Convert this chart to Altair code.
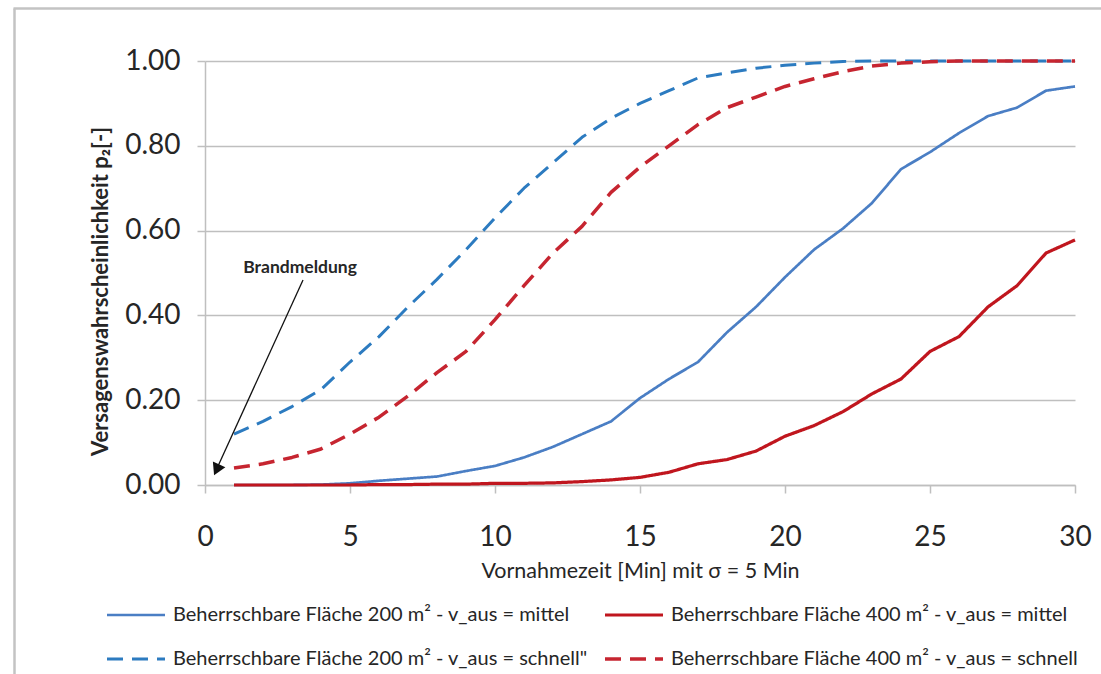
import altair as alt
import pandas as pd

# ---- data ----
minutes = list(range(1, 31))

series_names = [
    "Beherrschbare Fläche 200 m² - v_aus = mittel",
    "Beherrschbare Fläche 200 m² - v_aus = schnell\"",
    "Beherrschbare Fläche 400 m² - v_aus = mittel",
    "Beherrschbare Fläche 400 m² - v_aus = schnell",
]

flaeche_200_mittel = [0.000, 0.000, 0.000, 0.001, 0.004, 0.010, 0.015, 0.020, 0.033, 0.045,
                      0.065, 0.090, 0.120, 0.150, 0.205, 0.250, 0.290, 0.360, 0.420, 0.490,
                      0.555, 0.605, 0.665, 0.745, 0.785, 0.830, 0.870, 0.890, 0.930, 0.940]
flaeche_200_schnell = [0.120, 0.150, 0.185, 0.225, 0.290, 0.350, 0.420, 0.485, 0.555, 0.630,
                       0.700, 0.760, 0.820, 0.865, 0.900, 0.930, 0.960, 0.972, 0.983, 0.990,
                       0.995, 0.999, 1.000, 1.000, 1.000, 1.000, 1.000, 1.000, 1.000, 1.000]
flaeche_400_mittel = [0.000, 0.000, 0.000, 0.000, 0.000, 0.001, 0.001, 0.002, 0.002, 0.004,
                      0.004, 0.005, 0.008, 0.012, 0.018, 0.030, 0.050, 0.060, 0.080, 0.115,
                      0.140, 0.173, 0.215, 0.250, 0.315, 0.350, 0.420, 0.470, 0.547, 0.578]
flaeche_400_schnell = [0.040, 0.050, 0.065, 0.085, 0.120, 0.160, 0.210, 0.265, 0.315, 0.390,
                       0.470, 0.547, 0.610, 0.690, 0.750, 0.800, 0.850, 0.890, 0.915, 0.940,
                       0.958, 0.975, 0.988, 0.995, 0.998, 1.000, 1.000, 1.000, 1.000, 1.000]

x_ticks = [0, 5, 10, 15, 20, 25, 30]
y_ticks = [0.0, 0.2, 0.4, 0.6, 0.8, 1.0]

colors = ["#4A7EC4", "#2C7BC0", "#C0161E", "#C62530"]
dashes = [[1, 0], [16, 9], [1, 0], [16, 9]]
widths = [2.7, 3.5, 3.2, 3.5]

note_text = ["Brandmeldung"]
note_x = [3.28]
note_y = [0.512]
arrow_x = [3.38, 0.45]
arrow_y = [0.4835, 0.045]
arrow_tip_x = [0.40]
arrow_tip_y = [0.036]

# ---- table ----
rows = []
for name, vals in zip(series_names, [flaeche_200_mittel, flaeche_200_schnell,
                                     flaeche_400_mittel, flaeche_400_schnell]):
    for m, v in zip(minutes, vals):
        rows.append({"x": m, "p": v, "series": name})
df = pd.DataFrame(rows)

FONT = "Lato"
GRAY = "#BFBFBF"
TXT = "#262626"

x_enc = alt.X("x:Q", scale=alt.Scale(domain=[0, 30], nice=False),
              axis=alt.Axis(values=x_ticks, title="Vornahmezeit [Min] mit σ = 5 Min",
                            grid=False, domainColor=GRAY, domainWidth=1.5,
                            tickColor=GRAY, tickWidth=1.5, tickSize=8,
                            labelFont=FONT, labelFontSize=28, labelColor=TXT,
                            labelPadding=30, labelFlush=False,
                            titleFont=FONT, titleFontSize=21.5, titleFontWeight="normal",
                            titleColor=TXT, titlePadding=9))
y_enc = alt.Y("p:Q", scale=alt.Scale(domain=[0, 1], nice=False),
              axis=alt.Axis(values=y_ticks, format=".2f",
                            title="Versagenswahrscheinlichkeit p₂[-]",
                            grid=True, gridColor=GRAY, gridWidth=1.5,
                            domainColor=GRAY, domainWidth=1.5,
                            tickColor=GRAY, tickWidth=1.5, tickSize=8,
                            labelFont=FONT, labelFontSize=28, labelColor=TXT,
                            labelPadding=17,
                            titleFont=FONT, titleFontSize=22, titleFontWeight="bold",
                            titleColor=TXT, titleX=-105, titleY=230,
                            titleBaseline="middle", titleAlign="center"))

lines = alt.Chart(df).mark_line(strokeCap="butt", strokeJoin="round").encode(
    x=x_enc,
    y=y_enc,
    color=alt.Color("series:N", scale=alt.Scale(domain=series_names, range=colors),
                    legend=alt.Legend(orient="none", legendX=-100, legendY=544,
                                      columns=2, title=None, symbolType="stroke",
                                      symbolSize=3364, symbolStrokeWidth=3,
                                      clipHeight=20, rowPadding=24, columnPadding=15,
                                      labelFont=FONT, labelFontSize=20,
                                      labelColor=TXT, labelOffset=6,
                                      padding=0, labelLimit=600)),
    strokeDash=alt.StrokeDash("series:N", scale=alt.Scale(domain=series_names, range=dashes)),
    strokeWidth=alt.StrokeWidth("series:N", scale=alt.Scale(domain=series_names, range=widths),
                                legend=None),
    order=alt.Order("x:Q"),
)

note = alt.Chart(pd.DataFrame({"x": note_x, "p": note_y, "t": note_text})).mark_text(
    font=FONT, fontSize=17.5, fontWeight="bold", color=TXT, align="center",
    baseline="middle").encode(x="x:Q", y="p:Q", text="t:N")

arrow_line = alt.Chart(pd.DataFrame({"x": arrow_x, "p": arrow_y})).mark_line(
    color="#111111", strokeWidth=1.3).encode(x="x:Q", y="p:Q")

arrow_head = alt.Chart(pd.DataFrame({"x": arrow_tip_x, "p": arrow_tip_y})).mark_point(
    shape="triangle-up", filled=True, color="#111111", size=190, opacity=1,
    angle=205).encode(x="x:Q", y="p:Q")

frame_left = alt.Chart(alt.Data(values=[{}])).mark_rule(color="#C3C3C3", strokeWidth=2.5).encode(
    x=alt.value(-190.5), y=alt.value(-52.5), y2=alt.value(613))
frame_top = alt.Chart(alt.Data(values=[{}])).mark_rule(color="#C3C3C3", strokeWidth=2.5).encode(
    x=alt.value(-191.5), x2=alt.value(900), y=alt.value(-52.5))

chart = alt.layer(frame_left, frame_top, lines, arrow_line, arrow_head, note).properties(
    width=870, height=424,
    autosize=alt.AutoSizeParams(type="none"),
    padding={"left": 205, "top": 61, "right": 26, "bottom": 189},
    background="white",
).configure_view(stroke=None)

chart.save("out.html", embed_options={"renderer": "svg", "actions": False})
